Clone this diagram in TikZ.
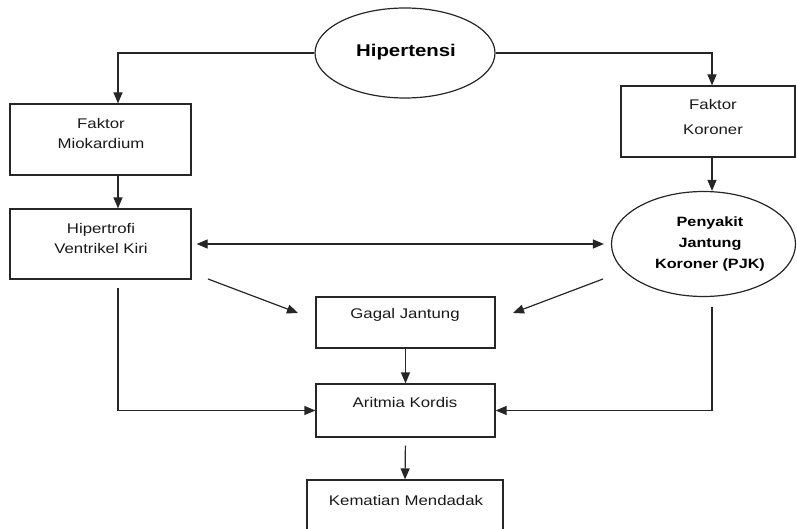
\documentclass[tikz,border=0pt]{standalone}
\usepackage{fontspec}
\setmainfont[FakeStretch=1.2]{Liberation Sans}
\usetikzlibrary{arrows.meta,shapes.geometric}
\begin{document}
\begin{tikzpicture}[x=1pt,y=-1pt,
  ln/.style={line width=1.2pt, draw=black!85},
  arr/.style={ln,-{Triangle[length=11pt,width=9pt]}},
  darr/.style={ln,{Triangle[length=11pt,width=9pt]}-{Triangle[length=11pt,width=9pt]}},
  box/.style={draw=black!85, line width=1.2pt, rectangle, inner sep=0},
  oval/.style={draw=black!85, line width=1.2pt, ellipse, inner sep=0},
  txt/.style={font=\fontsize{14}{20}\selectfont, align=center, inner sep=0, text=black!90},
  btxt/.style={font=\fontsize{13.5}{21}\selectfont\bfseries, align=center, inner sep=0}]
\useasboundingbox (0,0) rectangle (797,529);
\clip (0,0) rectangle (797,529);

% nodes
\node[oval, minimum width=180, minimum height=90] (hip) at (405,53) {};
\node[font=\fontsize{17}{20}\selectfont\bfseries, inner sep=0] (hipt) at (406,52) {Hipertensi};

\node[box, minimum width=181, minimum height=71] (fm) at (100.5,139.5) {};
\node[txt] (fmt) at (101,133) {Faktor\\Miokardium};

\node[box, minimum width=181, minimum height=70] (ht) at (100.5,244) {};
\node[txt] (htt) at (101,238) {Hipertrofi\\Ventrikel Kiri};

\node[box, minimum width=174, minimum height=71] (fk) at (708,121.5) {};
\node[txt, font=\fontsize{14}{25}\selectfont] (fkt) at (713,117) {Faktor\\Koroner};

\node[oval, minimum width=184, minimum height=105] (pjk) at (703.5,244) {};
\node[btxt] (pjkt) at (710,244) {Penyakit\\Jantung\\Koroner (PJK)};

\node[box, minimum width=179, minimum height=51] (gj) at (405.5,322.5) {};
\node[txt] (gjt) at (405,315) {Gagal Jantung};

\node[box, minimum width=179, minimum height=53] (ak) at (405.5,410.5) {};
\node[txt] (akt) at (405,402) {Aritmia Kordis};

\node[box, minimum width=196, minimum height=60] (km) at (405,510) {};
\node[txt] (kmt) at (406,500) {Kematian Mendadak};

% free ends
\coordinate (d1s) at (208,279);
\coordinate (d1e) at (298,313);
\coordinate (d2s) at (603,279);
\coordinate (d2e) at (513,313);

% connectors
\draw[arr] (hip.west) -| ([xshift=17.5pt]fm.north);
\draw[arr] (hip.east) -| ([xshift=4pt]fk.north);
\draw[arr] ([xshift=17.5pt]fm.south) -- ([xshift=17.5pt]ht.north);
\draw[arr] ([xshift=4pt]fk.south) -- ([xshift=8.5pt]pjk.north);
\draw[darr, shorten <=5pt, shorten >=7pt] (ht.east) -- (pjk.west);
\draw[arr] (d1s) -- (d1e);
\draw[arr] (d2s) -- (d2e);
\draw[arr] (gj.south) -- (ak.north);
\draw[arr] ([xshift=17.5pt,yshift=-8pt]ht.south) |- (ak.west);
\draw[arr] ([xshift=8.5pt,yshift=-10pt]pjk.south) |- (ak.east);
\draw[arr, shorten <=8pt] (ak.south) -- (km.north);
\end{tikzpicture}
\end{document}
